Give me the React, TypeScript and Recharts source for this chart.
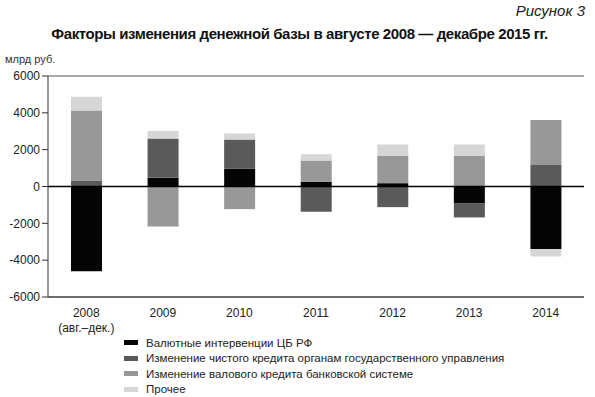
import React from "react";
import { BarChart, Bar, XAxis, YAxis, CartesianGrid, ReferenceLine } from "recharts";

const categories = ["2008\n(авг.–дек.)", "2009", "2010", "2011", "2012", "2013", "2014"];
const fxInterventions = [-4600, 470, 960, 250, 180, -900, -3400];
const govCredit = [330, 2130, 1590, -1370, -1120, -780, 1170];
const bankCredit = [3800, -2170, -1230, 1160, 1500, 1680, 2440];
const other = [740, 420, 330, 340, 600, 600, -400];
const yTicks = [-6000, -4000, -2000, 0, 2000, 4000, 6000];

const seriesNames = [
  "Валютные интервенции ЦБ РФ",
  "Изменение чистого кредита органам государственного управления",
  "Изменение валового кредита банковской системе",
  "Прочее",
];
const seriesColors = ["#050505", "#5a5a5c", "#98989b", "#d6d6d8"];

const data = categories.map((c, i) => ({
  cat: c,
  fx: fxInterventions[i],
  gov: govCredit[i],
  bank: bankCredit[i],
  other: other[i],
}));

const FONT = "'Liberation Sans', Arial, sans-serif";

const XTick = (props: any) => {
  const { x, y, payload } = props;
  const lines = String(payload.value).split("\n");
  return (
    <g transform={`translate(${x},${y})`}>
      {lines.map((l: string, i: number) => (
        <text key={i} x={0} y={12 + i * 15} textAnchor="middle" fontSize={12} fill="#222" fontFamily={FONT}>
          {l}
        </text>
      ))}
    </g>
  );
};

export default function App() {
  const keys = ["fx", "gov", "bank", "other"];
  return (
    <div style={{ position: "absolute", left: 0, top: 0, width: 595, height: 397, background: "#fff", fontFamily: FONT }}>
      <div style={{ position: "absolute", right: 10, top: 2, fontSize: 15, fontStyle: "italic", color: "#222" }}>Рисунок 3</div>
      <div style={{ position: "absolute", left: 0, width: 599, textAlign: "center", top: 25, fontSize: 15, fontWeight: "bold", color: "#111", letterSpacing: -0.4 }}>
        Факторы изменения денежной базы в августе 2008 — декабре 2015 гг.
      </div>
      <div style={{ position: "absolute", left: 5, top: 53, fontSize: 11, color: "#333" }}>млрд руб.</div>
      <BarChart
        width={595}
        height={360}
        data={data}
        stackOffset="sign"
        margin={{ top: 76, right: 11, left: 8, bottom: 43 }}
        barSize={31}
      >
        <CartesianGrid vertical={false} stroke="#555" strokeWidth={1} />
        <XAxis dataKey="cat" tick={<XTick />} tickLine={false} axisLine={{ stroke: "#333" }} interval={0} height={20} />
        <YAxis
          yAxisId="left"
          domain={[-6000, 6000]}
          ticks={yTicks}
          width={40}
          tickSize={6}
          tickLine={{ stroke: "#333" }}
          axisLine={{ stroke: "#333" }}
          tick={{ fontSize: 12, fill: "#222", fontFamily: FONT }}
          interval={0}
        />
        <YAxis yAxisId="right" orientation="right" width={0} tick={false} tickLine={false} axisLine={{ stroke: "#333" }} domain={[-6000, 6000]} />
        {keys.map((k, i) => (
          <Bar key={k} yAxisId="left" dataKey={k} stackId="s" fill={seriesColors[i]} isAnimationActive={false} />
        ))}
        <ReferenceLine yAxisId="left" y={0} stroke="#000" strokeWidth={1.5} />
      </BarChart>
      <div style={{ position: "absolute", left: 124, top: 335 }}>
        {seriesNames.map((n, i) => (
          <div key={n} style={{ display: "flex", alignItems: "center", height: 15.5, fontSize: 11.5, color: "#222" }}>
            <span style={{ display: "inline-block", width: 14, height: 5, background: seriesColors[i], marginRight: 8 }} />
            {n}
          </div>
        ))}
      </div>
    </div>
  );
}
